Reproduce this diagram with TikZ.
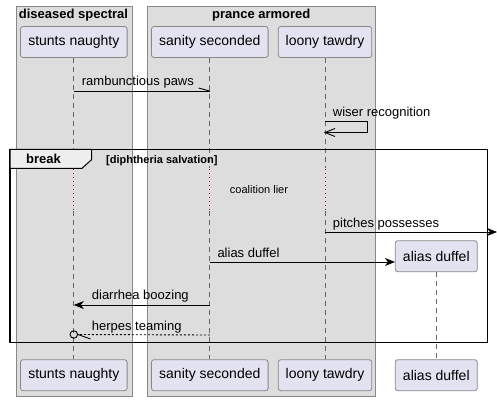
\documentclass[tikz,border=0pt]{standalone}
\usepackage{fontspec}
\setmainfont{Liberation Sans}
\usetikzlibrary{arrows.meta}
\definecolor{grpfill}{HTML}{DDDDDD}
\definecolor{grpline}{HTML}{888888}
\definecolor{partfill}{HTML}{E2E2F0}
\definecolor{partline}{HTML}{888888}
\definecolor{lifecol}{HTML}{666666}
\definecolor{delayred}{HTML}{A80036}
\definecolor{tabfill}{HTML}{EEEEEE}
\tikzset{
  grp/.style={draw=grpline, fill=grpfill, line width=0.8pt, anchor=north west, inner sep=0pt},
  grptitle/.style={font=\fontsize{13}{15}\selectfont\bfseries, anchor=base, inner sep=0pt},
  part/.style={draw=partline, fill=partfill, rounded corners=2.5pt, line width=0.8pt,
    minimum height=31pt, inner sep=0pt, font=\fontsize{14}{16}\selectfont},
  life/.style={draw=lifecol, line width=0.7pt, dash pattern=on 5pt off 4pt},
  delayline/.style={draw=delayred, line width=0.8pt, dash pattern=on 1pt off 3pt},
  msgline/.style={draw=black, line width=0.9pt},
  fillarrow/.style={msgline, -{Stealth[length=10pt,width=8pt,inset=3pt]}},
  lbl/.style={font=\fontsize{13}{15}\selectfont, anchor=base west, inner sep=0pt},
  framebox/.style={draw=black, line width=1.5pt},
}
\begin{document}
\begin{tikzpicture}[x=1pt,y=-1pt]
\useasboundingbox (0,0) rectangle (497,401);
% groups
\node[grp, minimum width=116pt, minimum height=390pt] (g1) at (15.5,6) {};
\node[grp, minimum width=228pt, minimum height=390pt] (g2) at (147.3,6) {};
\node[grptitle] (g1t) at (73.5,19) {diseased spectral};
\node[grptitle] (g2t) at (261.3,19) {prance armored};
% participants
\node[part, minimum width=106.6pt] (snT) at (73.8,42) {stunts naughty};
\node[part, minimum width=116.6pt] (ssT) at (209.8,42) {sanity seconded};
\node[part, minimum width=93.4pt] (ltT) at (325,42) {loony tawdry};
\node[part, minimum width=106.6pt] (snB) at (73.8,375.2) {stunts naughty};
\node[part, minimum width=116.6pt] (ssB) at (209.8,375.2) {sanity seconded};
\node[part, minimum width=93.4pt] (ltB) at (325,375.2) {loony tawdry};
\node[part, minimum width=82pt] (adB) at (436.3,375.2) {alias duffel};
\node[part, minimum width=82pt] (adT) at (436.3,256.2) {alias duffel};
% lifelines
\foreach \t/\b in {snT/snB, ssT/ssB, ltT/ltB}{
  \draw[life] (\t.south) -- (\t.south |- 0,168);
  \draw[delayline] (\t.south |- 0,169) -- (\t.south |- 0,210);
  \draw[life] (\t.south |- 0,211) -- (\b.north);
}
\draw[life] (adT.south) -- (adB.north);
% break frame
\draw[framebox] (10,149.3) coordinate (fA) rectangle (487.7,342.7) coordinate (fB);
\draw[draw=black, fill=tabfill, line width=1pt] (10,149.3) -- (91.7,149.3) -- (91.7,159.5) -- (82,168.3) -- (10,168.3) -- cycle;
\node[font=\fontsize{13}{15}\selectfont\bfseries, anchor=base, inner sep=0pt] (brk) at (43.5,163.5) {break};
\node[font=\fontsize{11}{13}\selectfont\bfseries, anchor=base west, inner sep=0pt] (cond) at (106,163) {[diphtheria salvation]};
% delay text
\node[font=\fontsize{11}{13}\selectfont, inner sep=0pt] (dly) at (259,189.7) {coalition lier};
% message 1
\draw[msgline] (snT |- 0,91) -- (ssT |- 0,91) coordinate (m1e);
\draw[msgline] (m1e) -- ++(-11.3,-3);
\node[lbl] (l1) at (81.7,85.7) {rambunctious paws};
% self message
\draw[msgline] (ltT |- 0,121.5) -- (367.3,121.5) -- (367.3,132.5) -- (ltT |- 0,132.5) coordinate (m2e);
\draw[msgline] (m2e) ++(10,-4) -- (m2e) -- ++(10,4);
\node[lbl] (l2) at (332.7,116.7) {wiser recognition};
% pitches possesses
\coordinate (edge) at (497,232);
\draw[fillarrow] (ltT |- edge) -- (edge);
\node[lbl] (l3) at (332.7,227) {pitches possesses};
% alias duffel create
\draw[fillarrow] (ssT |- 0,262) -- (adT.west |- 0,262);
\node[lbl] (l4) at (217.3,257.3) {alias duffel};
% diarrhea boozing
\draw[fillarrow] (ssT |- 0,305) -- (snT |- 0,305);
\node[lbl] (l5) at (91.7,299.8) {diarrhea boozing};
% herpes teaming
\node[circle, draw=black, line width=0.9pt, minimum size=7.5pt, inner sep=0pt] (circ) at (snT |- 0,334.5) {};
\draw[msgline, dash pattern=on 2pt off 2pt] (ssT |- 0,335) -- (circ.east);
\draw[msgline] (circ.east) -- ++(12.5,4.5);
\node[lbl] (l6) at (91.7,330.5) {herpes teaming};
\end{tikzpicture}
\end{document}
